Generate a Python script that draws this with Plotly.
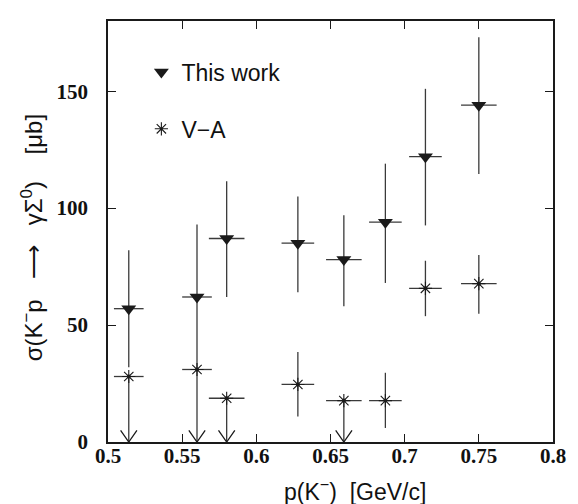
import plotly.graph_objects as go

# ---- data ----
p_kaon = [0.514, 0.560, 0.580, 0.628, 0.659, 0.687, 0.714, 0.750]
p_err = [0.010, 0.010, 0.012, 0.011, 0.012, 0.011, 0.011, 0.012]

this_work = [57, 62, 87, 85, 78, 94, 122, 144]
this_work_hi = [82, 93, 111.5, 105, 97, 119, 151, 173]
this_work_lo = [32, 31, 62, 64, 58, 68, 92.6, 114.6]

va = [28, 31, 18.7, 24.6, 17.7, 17.7, 65.7, 67.7]
va_hi = [28, 31, 18.7, 38.5, 17.7, 29.6, 77.5, 80]
va_lo = [0, 0, 0, 10.9, 0, 6, 53.8, 54.8]
va_is_limit = [True, True, True, False, True, False, False, False]

x_ticks = [0.5, 0.55, 0.6, 0.65, 0.7, 0.75, 0.8]
x_tick_labels = ["0.5", "0.55", "0.6", "0.65", "0.7", "0.75", "0.8"]
y_ticks = [0, 50, 100, 150]

INK = "#1a1a1a"
BAR = "#3a3a3a"
NB = "\u00a0"

fig = go.Figure()

fig.add_trace(go.Scatter(
    x=p_kaon, y=this_work, mode="markers", name="This work",
    legendgroup="a",
    marker=dict(symbol="triangle-down", size=13, color=INK),
    error_y=dict(type="data", symmetric=False,
                 array=[h - v for h, v in zip(this_work_hi, this_work)],
                 arrayminus=[v - l for v, l in zip(this_work, this_work_lo)],
                 color=BAR, thickness=1.3, width=0),
    error_x=dict(type="data", array=p_err, color=BAR, thickness=1.3, width=0),
))

fig.add_trace(go.Scatter(
    x=p_kaon, y=va, mode="markers", name="V\u2212A",
    legendgroup="b",
    marker=dict(symbol="asterisk-open", size=11, color=INK,
                line=dict(width=1.1, color=INK)),
    error_y=dict(type="data", symmetric=False,
                 array=[h - v for h, v in zip(va_hi, va)],
                 arrayminus=[v - l for v, l in zip(va, va_lo)],
                 color=BAR, thickness=1.3, width=0),
    error_x=dict(type="data", array=p_err, color=BAR, thickness=1.3, width=0),
))

# small centre dots of the asterisks
fig.add_trace(go.Scatter(
    x=p_kaon, y=va, mode="markers", showlegend=False, hoverinfo="skip",
    marker=dict(symbol="circle", size=4, color=INK),
))

# open arrowheads on the upper-limit points (built from the data arrays)
ax, ay = [], []
for xv, lim in zip(p_kaon, va_is_limit):
    if lim:
        ax += [xv - 0.0055, xv, xv + 0.0055, None]
        ay += [5, 0, 5, None]
fig.add_trace(go.Scatter(
    x=ax, y=ay, mode="lines", showlegend=False, hoverinfo="skip",
    line=dict(color=INK, width=1.3), cliponaxis=False,
))

tick_font = dict(family="Liberation Serif", size=21, color="#111111", weight="bold")
title_font = dict(family="Liberation Sans", size=23, color="#111111")
ytitle_font = dict(family="Liberation Sans", size=24, color="#111111")

x_title = "p(K<sup>\u2212</sup>)" + NB * 2 + "[GeV/c]"
y_title = ("\u03c3(K<sup>\u2212</sup>p" + NB * 3 + "\u27f6" + NB * 3 +
           "\u03b3\u03a3<sup>0</sup>)" + NB * 4 + "[\u03bcb]")

fig.update_layout(
    width=578, height=504,
    margin=dict(l=100, r=33, t=11, b=70),
    paper_bgcolor="white", plot_bgcolor="white",
    showlegend=True,
    legend=dict(x=0.075, y=0.93, xanchor="left", yanchor="top",
                bgcolor="rgba(0,0,0,0)", tracegroupgap=24,
                font=dict(family="Liberation Sans", size=23, color="#111111"),
                itemwidth=30),
    xaxis=dict(
        range=[0.5, 0.8], tickvals=x_ticks, ticktext=x_tick_labels,
        ticks="inside", ticklen=8, tickwidth=1.3, tickcolor=INK,
        showline=True, linecolor=INK, linewidth=1.6, mirror="ticks",
        showgrid=False, zeroline=False,
        tickfont=tick_font, ticklabelstandoff=-6,
    ),
    yaxis=dict(
        range=[0, 180], tickvals=y_ticks,
        ticks="inside", ticklen=8, tickwidth=1.3, tickcolor=INK,
        showline=True, linecolor=INK, linewidth=1.6, mirror="ticks",
        showgrid=False, zeroline=False,
        tickfont=tick_font, ticklabelstandoff=14,
    ),
    annotations=[
        dict(text=x_title, xref="paper", yref="paper", x=0.555, y=-0.115,
             xanchor="center", yanchor="middle", showarrow=False, font=title_font),
        dict(text=y_title, xref="paper", yref="paper", x=-0.172, y=0.485,
             xanchor="center", yanchor="middle", showarrow=False, textangle=-90,
             font=ytitle_font),
    ],
)

fig.write_html("out.html")
